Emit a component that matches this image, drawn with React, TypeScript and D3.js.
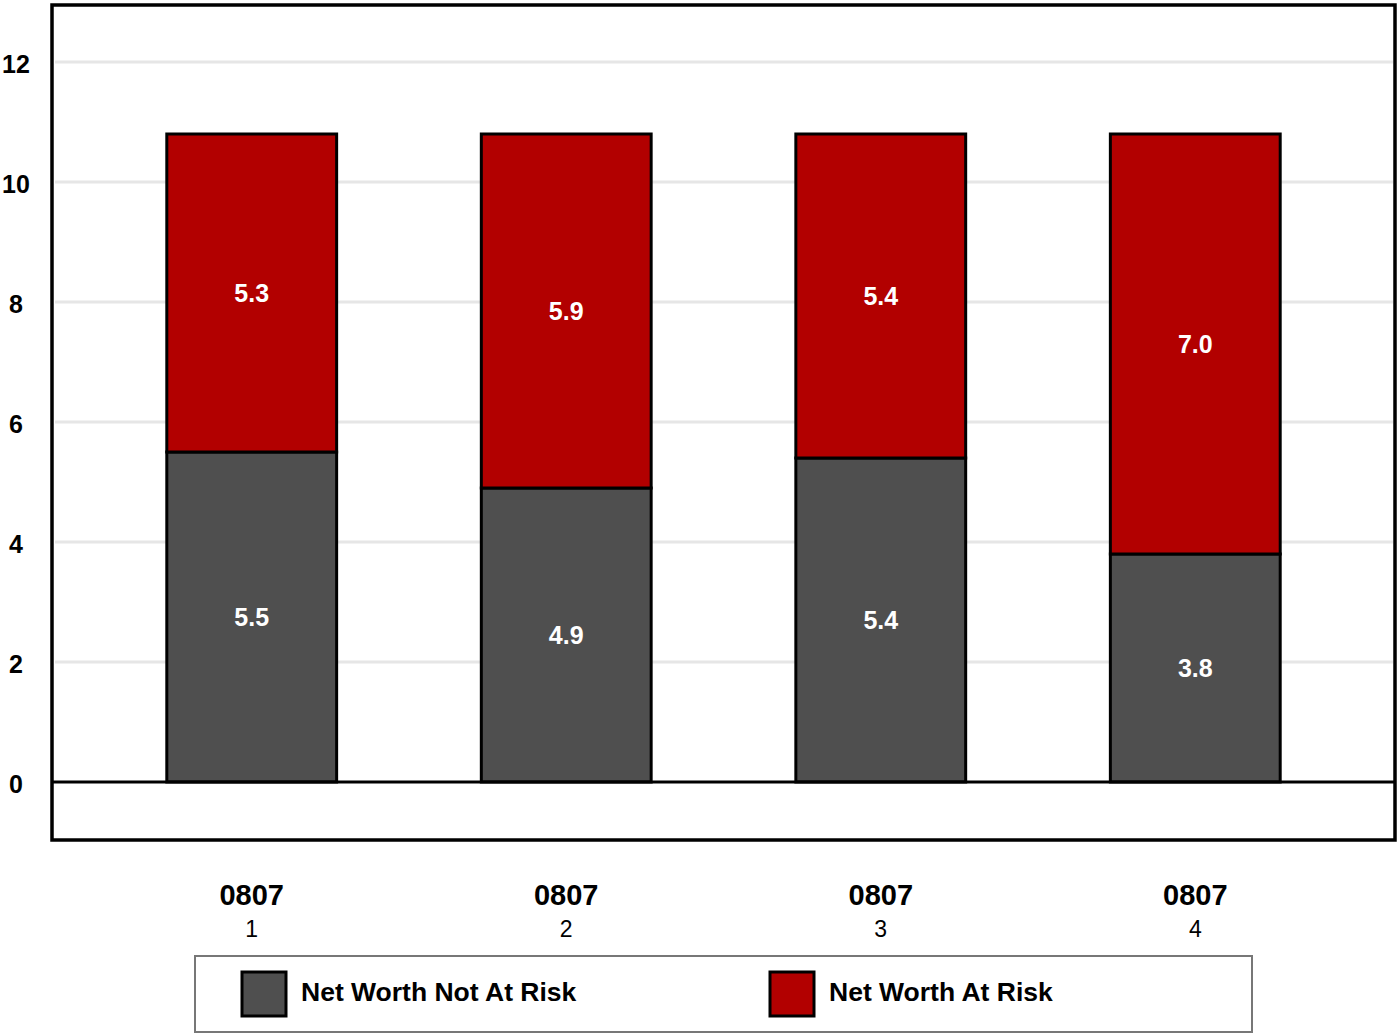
import React from "react";
import * as d3 from "d3";

const categories = ["1", "2", "3", "4"];
const categoryTitle = ["0807", "0807", "0807", "0807"];
const notAtRisk = [5.5, 4.9, 5.4, 3.8];
const atRisk = [5.3, 5.9, 5.4, 7.0];
const yTicks = [0, 2, 4, 6, 8, 10, 12];
const seriesNames = ["Net Worth Not At Risk", "Net Worth At Risk"];
const seriesColors = ["#4f4f4f", "#b20000"];

const W = 1397;
const H = 1035;
const FONT = "'Liberation Sans', Arial, sans-serif";

export default function App() {
  const frame = { left: 52, right: 1395, top: 5, bottom: 840 };
  const y = d3.scaleLinear().domain([0, 12]).range([782, 62]);
  const x = d3
    .scaleBand<string>()
    .domain(categories)
    .range([frame.left, frame.right])
    .paddingInner(0.46)
    .paddingOuter(0.365);

  const stackData = categories.map((c, i) => ({
    cat: c,
    notAtRisk: notAtRisk[i],
    atRisk: atRisk[i],
  }));
  const stack = d3.stack<any>().keys(["notAtRisk", "atRisk"]);
  const series = stack(stackData);

  return (
    <svg
      width={W}
      height={H}
      style={{ position: "absolute", left: 0, top: 0, display: "block" }}
      fontFamily={FONT}
    >
      <rect x={0} y={0} width={W} height={H} fill="#fff" />
      {/* gridlines */}
      {yTicks
        .filter((t) => t > 0)
        .map((t) => (
          <line
            key={t}
            x1={frame.left + 3}
            x2={frame.right - 2}
            y1={y(t)}
            y2={y(t)}
            stroke="#e6e6e6"
            strokeWidth={3}
          />
        ))}
      {/* y tick labels */}
      {yTicks.map((t) => (
        <text
          key={t}
          x={16}
          y={y(t) + 2}
          dy="0.36em"
          textAnchor="middle"
          fontSize={25}
          fontWeight="bold"
          fill="#000"
        >
          {t}
        </text>
      ))}
      {/* stacked bars */}
      {series.map((s, si) =>
        s.map((d, i) => {
          const x0 = x(categories[i])!;
          const y0 = y(d[1]);
          const y1 = y(d[0]);
          const v = d[1] - d[0];
          return (
            <g key={`${si}-${i}`}>
              <rect
                x={x0}
                y={y0}
                width={x.bandwidth()}
                height={y1 - y0}
                fill={seriesColors[si]}
                stroke="#000"
                strokeWidth={3}
              />
              <text
                x={x0 + x.bandwidth() / 2}
                y={(y0 + y1) / 2}
                dy="0.36em"
                textAnchor="middle"
                fontSize={25}
                fontWeight="bold"
                fill="#fff"
              >
                {v.toFixed(1)}
              </text>
            </g>
          );
        })
      )}
      {/* zero line */}
      <line
        x1={frame.left}
        x2={frame.right}
        y1={y(0)}
        y2={y(0)}
        stroke="#000"
        strokeWidth={3}
      />
      {/* frame */}
      <rect
        x={frame.left}
        y={frame.top}
        width={frame.right - frame.left}
        height={frame.bottom - frame.top}
        fill="none"
        stroke="#000"
        strokeWidth={3.5}
      />
      {/* category labels */}
      {categories.map((c, i) => {
        const cx = x(c)! + x.bandwidth() / 2;
        return (
          <g key={c}>
            <text
              x={cx}
              y={905}
              textAnchor="middle"
              fontSize={29}
              fontWeight="bold"
              fill="#000"
            >
              {categoryTitle[i]}
            </text>
            <text x={cx} y={937} textAnchor="middle" fontSize={23} fill="#000">
              {c}
            </text>
          </g>
        );
      })}
      {/* legend */}
      <rect
        x={195}
        y={956}
        width={1057}
        height={76}
        fill="#fff"
        stroke="#777"
        strokeWidth={2}
      />
      {seriesNames.map((name, i) => {
        const lx = 242 + i * 528;
        return (
          <g key={name}>
            <rect
              x={lx}
              y={972}
              width={44}
              height={44}
              fill={seriesColors[i]}
              stroke="#000"
              strokeWidth={3}
            />
            <text
              x={lx + 59}
              y={1001}
              fontSize={26.5}
              fontWeight="bold"
              fill="#000"
            >
              {name}
            </text>
          </g>
        );
      })}
    </svg>
  );
}
